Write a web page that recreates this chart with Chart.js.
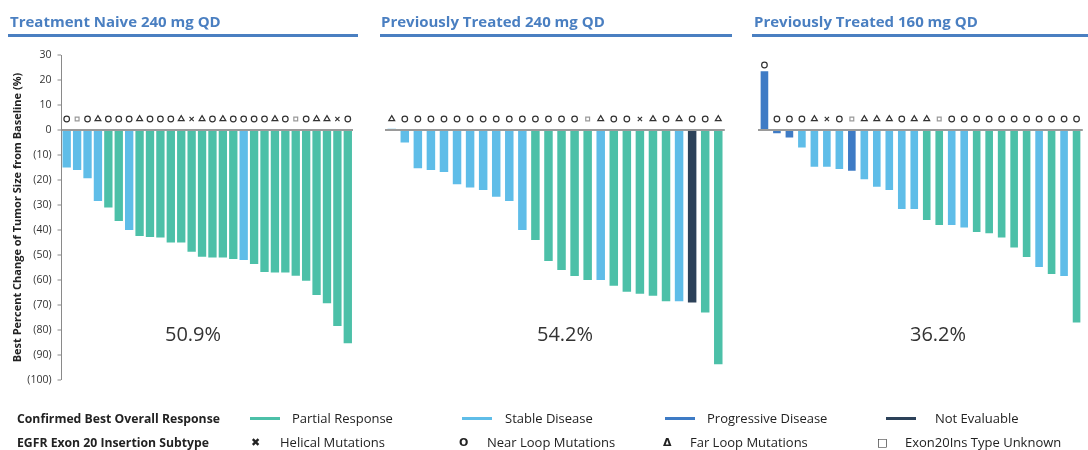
<!DOCTYPE html>
<html>
<head>
<meta charset="utf-8">
<script src="https://cdn.jsdelivr.net/npm/chart.js@4.4.1/dist/chart.umd.min.js"></script>
<style>
  body { margin: 0; background: #fff; }
  #wrap { position: relative; width: 1088px; height: 450px; overflow: hidden; font-family: "Open Sans", sans-serif; }
  canvas { position: absolute; top: 0; }
  .title { position: absolute; top: 11px; font: bold 15px "Open Sans", sans-serif; color: #4a7fc1; white-space: nowrap; }
  .rule { position: absolute; top: 34px; height: 2.5px; background: #4a7fc1; }
  .pct { position: absolute; top: 320px; font: 20px "Open Sans", sans-serif; color: #333; transform: translateX(-50%); }
  .lg { position: absolute; font: 13px "Open Sans", sans-serif; color: #222; white-space: nowrap; transform: translateY(-50%); }
  .lg.b { font-weight: bold; transform: translateY(-50%) scaleX(0.94); transform-origin: left center; }
  .sw { position: absolute; width: 30px; height: 3px; }
</style>
</head>
<body>
<div id="wrap">
  <canvas id="c1" width="360" height="450" style="left:0;width:360px;height:450px"></canvas>
  <canvas id="c2" width="350" height="450" style="left:380px;width:350px;height:450px"></canvas>
  <canvas id="c3" width="338" height="450" style="left:750px;width:338px;height:450px"></canvas>

  <div class="title" style="left:10px">Treatment Naive 240 mg QD</div>
  <div class="title" style="left:381px">Previously Treated 240 mg QD</div>
  <div class="title" style="left:754px">Previously Treated 160 mg QD</div>
  <div class="rule" style="left:8px;width:350px"></div>
  <div class="rule" style="left:380px;width:352px"></div>
  <div class="rule" style="left:752px;width:336px"></div>

  <div class="pct" style="left:193px">50.9%</div>
  <div class="pct" style="left:565px">54.2%</div>
  <div class="pct" style="left:938px">36.2%</div>

  <div id="legend"></div>
</div>
<script>
/* DATA */
// response codes: PR partial, SD stable, PD progressive, NE not evaluable
// subtype codes: N near loop, F far loop, H helical, U unknown
const naiveValues = [-15, -16, -19.3, -28.4, -31, -36.4, -40, -42.4, -42.8, -43, -45, -45, -48.7, -50.7,
  -51, -51, -51.6, -52, -53.6, -56.8, -57, -57, -58.3, -60.3, -66, -69.3, -78.4, -85.3];
const naiveResponse = ["SD","SD","SD","SD","PR","PR","SD","PR","PR","PR","PR","PR","PR","PR",
  "PR","PR","PR","SD","PR","PR","PR","PR","PR","PR","PR","PR","PR","PR"];
const naiveSubtype = ["N","U","N","F","N","N","N","F","N","N","N","F","H","F",
  "N","F","N","N","N","N","F","N","U","N","F","F","H","N"];

const treated240Values = [0.5, -5, -15.3, -16, -16.8, -21.7, -23, -24, -26.7, -28.4, -40, -44, -52.4,
  -56, -58.4, -60, -60, -62.3, -64.7, -65.5, -66.3, -68.5, -68.5, -69, -73, -93.7];
const treated240Response = ["SD","SD","SD","SD","SD","SD","SD","SD","SD","SD","SD","PR","PR",
  "PR","PR","PR","SD","PR","PR","PR","PR","PR","SD","NE","PR","PR"];
const treated240Subtype = ["F","N","N","N","N","N","N","N","N","N","N","N","N",
  "N","N","U","F","N","N","H","F","N","F","N","N","F"];

const treated160Values = [23.5, -1.3, -3, -7, -14.7, -14.7, -15.6, -16.3, -19.7, -22.7, -24, -31.6, -31.6,
  -36, -38, -38, -39, -40.8, -41.3, -43, -47, -50.8, -54.8, -57.6, -58.4, -77];
const treated160Response = ["PD","PD","PD","SD","SD","SD","SD","PD","SD","SD","SD","SD","SD",
  "PR","PR","SD","SD","PR","PR","PR","PR","PR","SD","PR","SD","PR"];
const treated160Subtype = ["N","N","N","N","F","H","N","U","F","F","F","N","F",
  "F","U","N","N","N","N","N","N","N","N","N","N","N"];

const yTicks = [30, 20, 10, 0, -10, -20, -30, -40, -50, -60, -70, -80, -90, -100];

/* STYLES */
const COLORS = { PR: "#4cc0a8", SD: "#5fbde8", PD: "#3e7bc5", NE: "#2c4159" };
const SHAPES = { N: "circle", F: "triangle", H: "crossRot", U: "rect" };
const RADII = { N: 2.8, F: 3.4, H: 3, U: 2.7 };
const MARK_COLOR = { N: "#333", F: "#333", H: "#333", U: "#999" };
const MARKER_Y = 4.4;

function makePanel(id, values, response, subtype, opts) {
  const markY = values.map(v => Math.max(MARKER_Y, v + 2.5));
  return new Chart(document.getElementById(id), {
    type: "bar",
    data: {
      labels: values.map((_, i) => i + 1),
      datasets: [{
        type: "line",
        data: markY,
        showLine: false,
        pointStyle: subtype.map(s => SHAPES[s]),
        pointRadius: subtype.map(s => RADII[s]),
        pointBorderColor: subtype.map(s => MARK_COLOR[s]),
        pointBackgroundColor: "#fff",
        pointBorderWidth: 1.2,
        order: 0
      }, {
        data: values,
        backgroundColor: response.map(r => COLORS[r]),
        barPercentage: opts.barPct,
        categoryPercentage: 1,
        order: 1
      }]
    },
    options: {
      responsive: false,
      animation: false,
      layout: { padding: { top: 55, bottom: 70, left: opts.padLeft, right: opts.padRight } },
      plugins: { legend: { display: false }, tooltip: { enabled: false } },
      scales: {
        x: { display: false, offset: true },
        y: {
          min: -100, max: 30,
          afterBuildTicks: s => { s.ticks = yTicks.map(v => ({ value: v })); },
          afterFit: s => { s.width = opts.axisWidth; },
          border: { display: opts.showAxis, color: "#8a8a8a", width: 1 },
          grid: {
            color: c => c.tick.value === 0 ? "#9a9a9a" : "rgba(0,0,0,0)",
            lineWidth: c => c.tick.value === 0 ? 2 : 0,
            drawTicks: opts.showAxis,
            tickColor: "#8a8a8a",
            tickWidth: 1,
            tickLength: 4
          },
          ticks: {
            display: opts.showAxis,
            padding: 6,
            color: "#333",
            font: { family: "Open Sans", size: 10.5 },
            callback: v => v < 0 ? "(" + (-v) + ")" : String(v)
          },
          title: {
            display: opts.showAxis,
            text: "Best Percent Change of Tumor Size from Baseline (%)",
            color: "#222",
            font: { family: "Open Sans", size: 11, weight: "bold" },
            padding: { top: 11, bottom: 0 }
          }
        }
      }
    }
  });
}

makePanel("c1", naiveValues, naiveResponse, naiveSubtype,
  { barPct: 0.8, padLeft: 0, padRight: 7, axisWidth: 61.5, showAxis: true });
makePanel("c2", treated240Values, treated240Response, treated240Subtype,
  { barPct: 0.65, padLeft: 5.2, padRight: 5, axisWidth: 0, showAxis: false });
makePanel("c3", treated160Values, treated160Response, treated160Subtype,
  { barPct: 0.61, padLeft: 8.2, padRight: 2.7, axisWidth: 0, showAxis: false });

/* LEGEND */
const legendRow1 = [
  { x: 17, text: "Confirmed Best Overall Response", bold: true },
  { x: 292, text: "Partial Response", sw: 250, color: COLORS.PR },
  { x: 505, text: "Stable Disease", sw: 462, color: COLORS.SD },
  { x: 707, text: "Progressive Disease", sw: 665, color: COLORS.PD },
  { x: 935, text: "Not Evaluable", sw: 886, color: COLORS.NE }
];
const legendRow2 = [
  { x: 17, text: "EGFR Exon 20 Insertion Subtype", bold: true },
  { x: 280, text: "Helical Mutations", sym: "\u2716", sx: 251 },
  { x: 487, text: "Near Loop Mutations", sym: "O", sx: 459 },
  { x: 690, text: "Far Loop Mutations", sym: "\u0394", sx: 663 },
  { x: 905, text: "Exon20Ins Type Unknown", sym: "\u25A1", sx: 877 }
];
const lg = document.getElementById("legend");
function addRow(items, y) {
  items.forEach(it => {
    const d = document.createElement("div");
    d.className = "lg" + (it.bold ? " b" : "");
    d.style.left = it.x + "px";
    d.style.top = y + "px";
    d.textContent = it.text;
    lg.appendChild(d);
    if (it.sw) {
      const s = document.createElement("div");
      s.className = "sw";
      s.style.left = it.sw + "px";
      s.style.top = (y - 1.5) + "px";
      s.style.background = it.color;
      lg.appendChild(s);
    }
    if (it.sym) {
      const s = document.createElement("div");
      s.className = "lg";
      s.style.left = it.sx + "px";
      s.style.top = y + "px";
      s.style.fontFamily = "DejaVu Sans";
      s.style.fontWeight = "bold";
      s.style.fontSize = "11px";
      s.textContent = it.sym;
      lg.appendChild(s);
    }
  });
}
addRow(legendRow1, 418);
addRow(legendRow2, 442);
</script>
</body>
</html>
